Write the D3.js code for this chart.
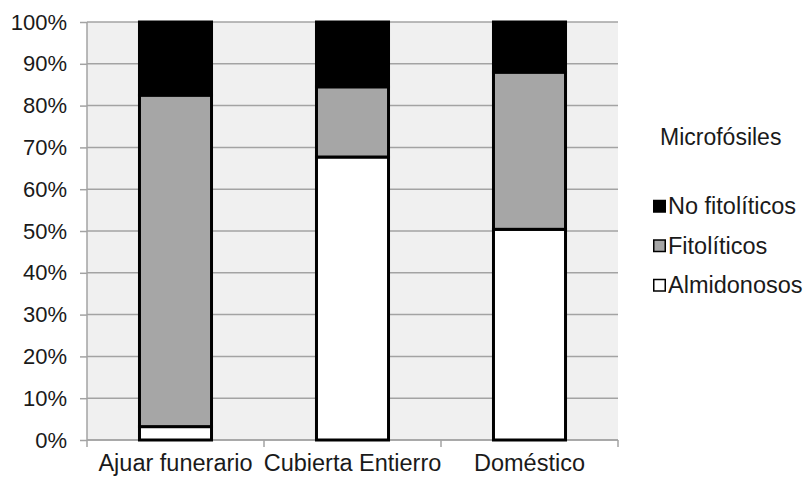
<!DOCTYPE html>
<html>
<head>
<meta charset="utf-8">
<script src="https://cdn.jsdelivr.net/npm/d3@7"></script>
<style>
  html, body { margin: 0; padding: 0; background: #fff; }
  svg { display: block; font-family: "Liberation Sans", Arial, sans-serif; }
</style>
</head>
<body>
<svg id="chart" width="807" height="477"></svg>
<script>
// Categories and percentage shares of each microfossil type
const categories = ["Ajuar funerario", "Cubierta Entierro", "Doméstico"];
const almidonosos = [3.2, 67.7, 50.4];
const fitoliticos = [79.3, 16.8, 37.6];
const noFitoliticos = [17.5, 15.5, 12.0];
const seriesNames = ["Almidonosos", "Fitolíticos", "No fitolíticos"];
const seriesColors = ["#ffffff", "#a6a6a6", "#000000"];
const yTicks = [0, 10, 20, 30, 40, 50, 60, 70, 80, 90, 100];
const legendTitle = "Microfósiles";

const svg = d3.select("#chart");
const plot = { left: 87, right: 618, top: 22, bottom: 440 };
const axisColor = "#a3a3a3";
const textColor = "#1a1a1a";

const x = d3.scaleBand()
  .domain(categories)
  .range([plot.left, plot.right])
  .paddingInner(0.593)
  .paddingOuter(0.2965);

const y = d3.scaleLinear().domain([0, 100]).range([plot.bottom, plot.top]);

// Plot background
svg.append("rect")
  .attr("x", plot.left).attr("y", plot.top)
  .attr("width", plot.right - plot.left).attr("height", plot.bottom - plot.top)
  .attr("fill", "#f0f0f0");

// Horizontal gridlines
svg.append("g").selectAll("line").data(yTicks).join("line")
  .attr("x1", plot.left).attr("x2", plot.right)
  .attr("y1", d => y(d)).attr("y2", d => y(d))
  .attr("stroke", axisColor).attr("stroke-width", 1.5);

// Y axis
const yAxis = d3.axisLeft(y).tickValues(yTicks).tickSize(7).tickPadding(13)
  .tickFormat(d => d + "%");
const gy = svg.append("g").attr("transform", `translate(${plot.left},0)`).call(yAxis);
gy.select(".domain").attr("stroke", axisColor).attr("stroke-width", 1.5)
  .attr("d", `M0,${plot.top}V${plot.bottom}`);
gy.selectAll(".tick line").attr("stroke", axisColor).attr("stroke-width", 1.5);
gy.selectAll(".tick text").attr("font-size", 22).attr("fill", textColor)
  .attr("font-family", "Liberation Sans, Arial, sans-serif");

// X axis with category labels
const xAxis = d3.axisBottom(x).tickSize(0).tickPadding(0);
const gx = svg.append("g").attr("transform", `translate(0,${plot.bottom})`).call(xAxis);
gx.select(".domain").attr("stroke", axisColor).attr("stroke-width", 1.5)
  .attr("d", `M${plot.left},0H${plot.right}`);
gx.selectAll(".tick text")
  .attr("dy", null).attr("y", 31)
  .attr("font-size", 23.5).attr("fill", textColor)
  .attr("font-family", "Liberation Sans, Arial, sans-serif");

// Tick marks at category boundaries
const boundaries = d3.range(categories.length + 1).map(i => plot.left + i * x.step());
gx.append("g").selectAll("line").data(boundaries).join("line")
  .attr("x1", d => d).attr("x2", d => d).attr("y1", 0).attr("y2", 7)
  .attr("stroke", axisColor).attr("stroke-width", 1.5);

// Stacked bars
const rows = categories.map((c, i) => ({
  cat: c, "Almidonosos": almidonosos[i], "Fitolíticos": fitoliticos[i], "No fitolíticos": noFitoliticos[i]
}));
const stack = d3.stack().keys(seriesNames)(rows);

svg.append("g").selectAll("g").data(stack).join("g")
  .attr("fill", (d, i) => seriesColors[i])
  .selectAll("rect").data(d => d).join("rect")
  .attr("x", d => x(d.data.cat))
  .attr("width", x.bandwidth())
  .attr("y", d => y(d[1]))
  .attr("height", d => y(d[0]) - y(d[1]))
  .attr("stroke", "#000").attr("stroke-width", 3);

// Legend
const legend = svg.append("g");
legend.append("text")
  .attr("x", 660).attr("y", 145)
  .attr("font-size", 23).attr("fill", textColor)
  .text(legendTitle);

const legendOrder = [2, 1, 0];
const items = legend.selectAll("g.item").data(legendOrder).join("g")
  .attr("class", "item")
  .attr("transform", (d, i) => `translate(653,${214 + i * 39.5})`);
items.append("rect")
  .attr("x", 0.75).attr("y", -13.5).attr("width", 11.5).attr("height", 11.5)
  .attr("fill", d => seriesColors[d]).attr("stroke", "#000").attr("stroke-width", 1.5);
items.append("text")
  .attr("x", 15).attr("y", 0)
  .attr("font-size", 23.5).attr("fill", textColor)
  .text(d => seriesNames[d]);
</script>
</body>
</html>
